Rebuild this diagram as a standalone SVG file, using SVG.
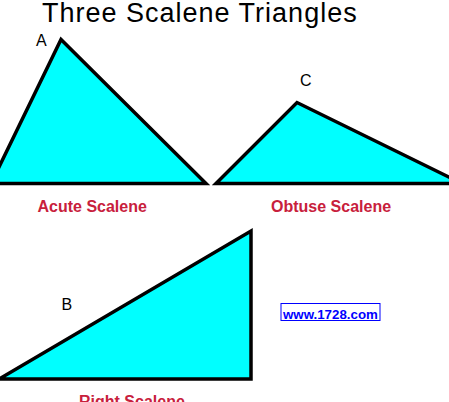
<svg xmlns="http://www.w3.org/2000/svg" width="449" height="402" viewBox="0 0 449 402">
<style>
.tri{fill:#00FFFF;stroke:#000;stroke-width:3.5;stroke-linejoin:miter}
.title{font-family:"Liberation Sans",Arial,sans-serif;font-size:27px;fill:#000;letter-spacing:1px}
.vx{font-family:"Liberation Sans",Arial,sans-serif;font-size:16px;fill:#000}
.cap{font-family:"Liberation Sans",Arial,sans-serif;font-size:16px;font-weight:bold;fill:#C8203C}
.url{font-family:"Liberation Sans",Arial,sans-serif;font-size:13.3px;font-weight:bold;fill:#0000FF}
</style>
<rect width="449" height="402" fill="#fff"/>
<text class="title" x="42" y="22">Three Scalene Triangles</text>
<g id="acute">
<polygon class="tri" points="-9,183.5 61,39.5 206,183.5"/>
<text class="vx" x="36" y="46">A</text>
<text class="cap" x="37.5" y="212">Acute Scalene</text>
</g>
<g id="obtuse">
<polygon class="tri" points="216,183.5 297,102.5 462,183.5"/>
<text class="vx" x="300" y="86">C</text>
<text class="cap" x="271" y="212">Obtuse Scalene</text>
</g>
<g id="right">
<polygon class="tri" points="-1,379 251,231 251,379"/>
<text class="vx" x="61.5" y="310">B</text>
<text class="cap" x="79" y="407">Right Scalene</text>
</g>
<g id="url">
<rect x="281" y="303.5" width="99" height="17" fill="#fff" stroke="#0000FF" stroke-width="1"/>
<text class="url" x="283" y="319">www.1728.com</text>
</g>
<g id="connectors"/>
</svg>
